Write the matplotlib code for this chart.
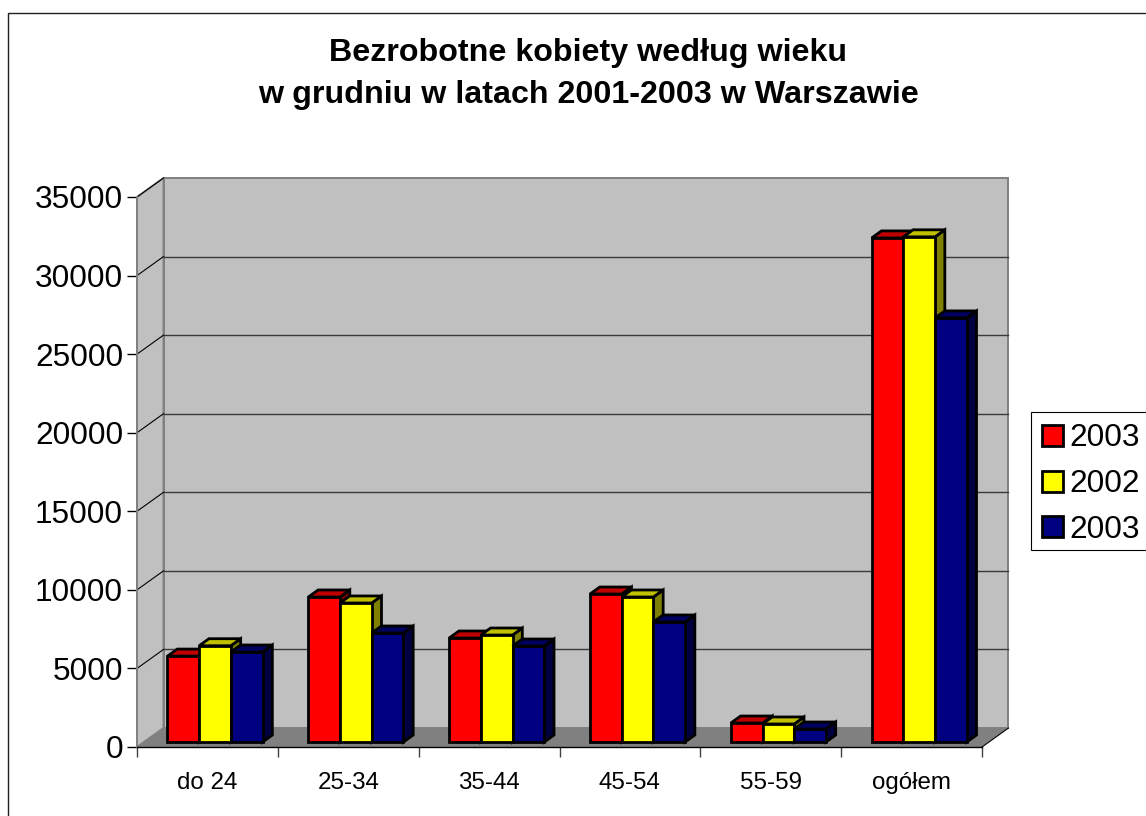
import matplotlib
matplotlib.use("Agg")
import matplotlib.pyplot as plt
from matplotlib.patches import Rectangle

plt.rcParams['font.family'] = ['Liberation Sans', 'DejaVu Sans']

categories = ['do 24', '25-34', '35-44', '45-54', '55-59', 'ogółem']
series_labels = ['2003', '2002', '2003']
values_first = [5470, 9230, 6620, 9420, 1210, 32080]
values_second = [6130, 8850, 6810, 9230, 1150, 32150]
values_third = [5730, 6940, 6110, 7640, 830, 26990]
y_ticks = [0, 5000, 10000, 15000, 20000, 25000, 30000, 35000]

W, H = 1146, 816
fig = plt.figure(figsize=(W / 100, H / 100), dpi=100, facecolor='white')

# front plane of the 3D box, in pixels
left, right, bottom, top = 137, 982, 747, 197
ax = fig.add_axes([left / W, 1 - bottom / H, (right - left) / W, (bottom - top) / H])
ax.set_xlim(0, len(categories))
ax.set_ylim(0, 35000)
ax.patch.set_visible(False)

# depth of the box expressed in data units (the shear of the fake 3D)
DX = 26.5 / (right - left) * len(categories)
DY = 19 / (bottom - top) * 35000
nx = len(categories)

# walls and floor
ax.fill([DX, nx + DX, nx + DX, DX], [DY, DY, 35000 + DY, 35000 + DY],
        color='#c0c0c0', ec='#808080', lw=1.4, clip_on=False, zorder=1)
ax.fill([0, DX, DX, 0], [0, DY, 35000 + DY, 35000],
        color='#c0c0c0', ec='#808080', lw=1.4, clip_on=False, zorder=1)
ax.fill([0, nx, nx + DX, DX], [0, 0, DY, DY],
        color='#808080', lw=0, clip_on=False, zorder=1)

# gridlines on back and side wall
for v in y_ticks[1:]:
    if v < y_ticks[-1]:
        ax.plot([DX, nx + DX], [v + DY, v + DY], color='#3a3a3a', lw=1, clip_on=False, zorder=2)
    ax.plot([0, DX], [v, v + DY], color='black', lw=0.8, clip_on=False, zorder=2)
ax.plot([nx, nx + DX], [0, DY], color='black', lw=0.8, clip_on=False, zorder=2)

# bars
bar_width = 0.225
d0 = 0.26
d1 = 0.63
series = [
    (values_first, '#ff0000', '#c00000', '#800000'),
    (values_second, '#ffff00', '#c0c000', '#808000'),
    (values_third, '#000080', '#000060', '#000040'),
]
handles = []
z = 3
for i in range(len(categories)):
    for j, (vals, front, top_col, side) in enumerate(series):
        x0 = i + 0.505 + (j - 1.5) * bar_width
        x1 = x0 + bar_width
        base = d0 * DY
        v = vals[i]
        fx0, fx1 = x0 + d0 * DX, x1 + d0 * DX
        bx0, bx1 = x0 + d1 * DX, x1 + d1 * DX
        h = base + v
        back_base = d1 * DY
        ax.fill([fx1, bx1, bx1, fx1], [base, back_base, v + back_base, h],
                fc=side, ec='black', lw=2, joinstyle='miter', clip_on=False, zorder=z)
        ax.fill([fx0, fx1, bx1, bx0], [h, h, v + back_base, v + back_base],
                fc=top_col, ec='black', lw=2, joinstyle='miter', clip_on=False, zorder=z)
        b = ax.bar(fx0, v, bottom=base, width=bar_width, align='edge', color=front,
                   ec='black', lw=2, clip_on=False, zorder=z)
        if i == 0:
            handles.append(b[0])
        z += 1

# axes
ax.spines['top'].set_visible(False)
ax.spines['right'].set_visible(False)
ax.spines['left'].set_color('#808080')
ax.spines['left'].set_linewidth(1.4)
ax.spines['left'].set_zorder(2)
ax.spines['bottom'].set_linewidth(1)
ax.spines['bottom'].set_zorder(2)
ax.set_yticks(y_ticks)
ax.tick_params(axis='y', length=7, width=1, labelsize=22.8, pad=3)
ax.set_xticks(range(nx + 1))
ax.set_xticklabels([])
ax.tick_params(axis='x', which='major', length=7, width=1, color='#404040')
ax.set_xticks([i + 0.5 for i in range(nx)], minor=True)
ax.set_xticklabels(categories, minor=True, fontsize=17.4)
ax.tick_params(axis='x', which='minor', length=0, pad=18)

# title
fig.text(588 / W, 1 - 53 / H, 'Bezrobotne kobiety według wieku', ha='center', va='center',
         fontsize=23.2, fontweight='bold')
fig.text(588 / W, 1 - 95 / H, 'w grudniu w latach 2001-2003 w Warszawie', ha='center', va='center',
         fontsize=23.2, fontweight='bold')

# legend, its box runs off the picture on the right like in the original
fig.add_artist(Rectangle((1031 / W, 1 - 550 / H), 0.2, 138 / H, transform=fig.transFigure,
                         fc='white', ec='black', lw=0.8))
leg = fig.legend(handles, series_labels, loc='upper left', bbox_to_anchor=(1031 / W, 1 - 412 / H),
                 fontsize=22.8, frameon=False,
                 handlelength=0.64, handleheight=0.64, handletextpad=0.2, labelspacing=0.5,
                 borderpad=0.36, borderaxespad=0)

# outer chart border, runs off the picture on the right and at the bottom
fig.add_artist(Rectangle((8 / W, -0.02), 1.1, 1 - 13 / H + 0.02, transform=fig.transFigure,
                         fill=False, ec='#202020', lw=1, zorder=0))

fig.savefig('out.png', dpi=100, facecolor='white')
